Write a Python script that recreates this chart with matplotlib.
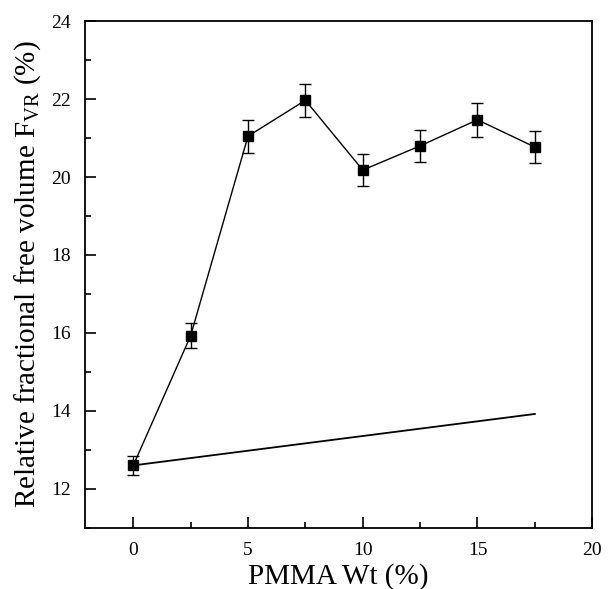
import matplotlib
matplotlib.use("Agg")
import matplotlib.pyplot as plt
from matplotlib.ticker import MultipleLocator

plt.rcParams['font.family'] = 'Liberation Serif'
plt.rcParams['mathtext.fontset'] = 'custom'
plt.rcParams['mathtext.rm'] = 'Liberation Serif'

# measured data
pmma_wt = [0, 2.5, 5, 7.5, 10, 12.5, 15, 17.5]
fvr = [12.6, 15.93, 21.05, 21.97, 20.18, 20.8, 21.47, 20.77]
fvr_err = [0.25, 0.32, 0.42, 0.43, 0.4, 0.42, 0.43, 0.4]

# additivity reference line
ref_x = [0, 17.5]
ref_y = [12.6, 13.92]

fig = plt.figure(figsize=(6.08, 5.89), dpi=100)
ax = fig.add_axes([0.14, 0.104, 0.834, 0.86])

ax.plot(ref_x, ref_y, color='black', lw=1.3)
ax.errorbar(pmma_wt, fvr, yerr=fvr_err, fmt='s-', color='black', ms=7,
            lw=1.0, elinewidth=1.0, capsize=4, capthick=1.0)

ax.set_xlim(-2.1, 20)
ax.set_ylim(11, 24)
ax.xaxis.set_major_locator(MultipleLocator(5))
ax.xaxis.set_minor_locator(MultipleLocator(2.5))
ax.yaxis.set_major_locator(MultipleLocator(2))
ax.yaxis.set_minor_locator(MultipleLocator(1))
ax.tick_params(which='both', direction='in', labelsize=14, width=1.2)
ax.tick_params(which='major', length=8, pad=10)
ax.tick_params(which='minor', length=4)
for s in ax.spines.values():
    s.set_linewidth(1.3)

ax.set_xlabel('PMMA Wt (%)', fontsize=21, labelpad=3)
ax.set_ylabel(r'Relative fractional free volume F$_{\mathrm{VR}}$ (%)', fontsize=21, labelpad=6)

fig.savefig('out.png', dpi=100)
